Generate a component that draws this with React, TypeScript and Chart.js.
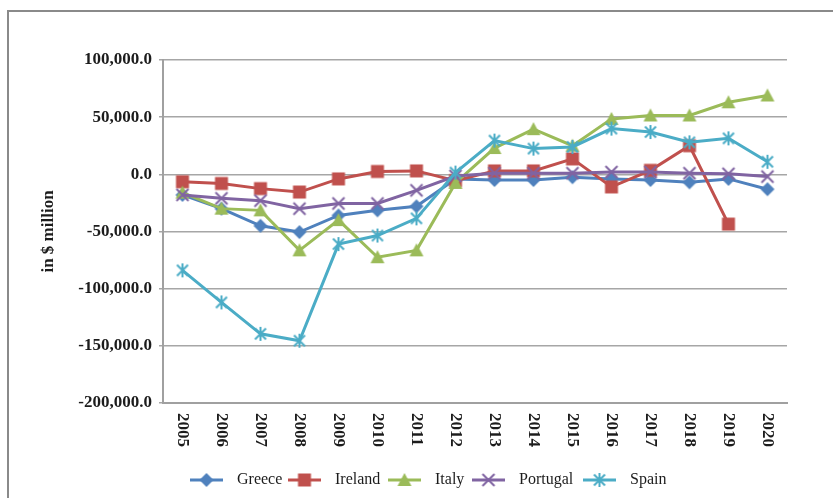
import { useEffect, useRef } from 'react';
import { Chart, registerables } from 'chart.js';

Chart.register(...registerables);

const years = ['2005', '2006', '2007', '2008', '2009', '2010', '2011', '2012', '2013', '2014', '2015', '2016', '2017', '2018', '2019', '2020'];
const greece = [-18000, -30000, -45000, -50500, -36000, -31500, -28000, -4000, -5000, -5000, -2500, -4000, -5000, -7000, -4000, -13000];
const ireland = [-6500, -8000, -12500, -15500, -4000, 2500, 3000, -5500, 3000, 3000, 13500, -11000, 3500, 25000, -43500, null];
const italy = [-16000, -30000, -31500, -66500, -40000, -72500, -66500, -7500, 23000, 39500, 25000, 48500, 51500, 51500, 63000, 69000];
const portugal = [-18000, -21000, -23000, -30000, -25500, -25500, -14000, -1500, 1000, 1000, 1000, 2000, 2000, 1000, 500, -2000];
const spain = [-84000, -112000, -139500, -145500, -61000, -53500, -38500, 1500, 29500, 22500, 24000, 40000, 37000, 28000, 31500, 11000];

const seriesNames = ['Greece', 'Ireland', 'Italy', 'Portugal', 'Spain'];
const seriesData = [greece, ireland, italy, portugal, spain];
const seriesColors = ['#4F81BD', '#C0504D', '#9BBB59', '#8064A2', '#4BACC6'];
const seriesMarkers = ['diamond', 'square', 'triangle', 'x', 'star'];
const yAxisTitle = 'in $ million';

const SERIF = '"Liberation Serif", "Times New Roman", serif';
const TEXT = '#1c1c1c';

function makeMarker(kind: string, color: string): HTMLCanvasElement {
  const s = 18;
  const c = document.createElement('canvas');
  c.width = s;
  c.height = s;
  const ctx = c.getContext('2d')!;
  const m = s / 2;
  ctx.fillStyle = color;
  ctx.strokeStyle = color;
  ctx.lineWidth = 2;
  ctx.lineCap = 'butt';
  ctx.beginPath();
  if (kind === 'diamond') {
    ctx.moveTo(m, m - 7);
    ctx.lineTo(m + 7, m);
    ctx.lineTo(m, m + 7);
    ctx.lineTo(m - 7, m);
    ctx.closePath();
    ctx.fill();
  } else if (kind === 'square') {
    ctx.rect(m - 6.5, m - 6.5, 13, 13);
    ctx.fill();
  } else if (kind === 'triangle') {
    ctx.moveTo(m, m - 7);
    ctx.lineTo(m + 7, m + 6);
    ctx.lineTo(m - 7, m + 6);
    ctx.closePath();
    ctx.fill();
  } else if (kind === 'x') {
    ctx.moveTo(m - 6, m - 6);
    ctx.lineTo(m + 6, m + 6);
    ctx.moveTo(m + 6, m - 6);
    ctx.lineTo(m - 6, m + 6);
    ctx.stroke();
  } else {
    ctx.moveTo(m - 5.5, m - 5.5);
    ctx.lineTo(m + 5.5, m + 5.5);
    ctx.moveTo(m + 5.5, m - 5.5);
    ctx.lineTo(m - 5.5, m + 5.5);
    ctx.moveTo(m, m - 7);
    ctx.lineTo(m, m + 7);
    ctx.stroke();
  }
  return c;
}

const fmt = (v: number) =>
  v.toLocaleString('en-US', { minimumFractionDigits: 1, maximumFractionDigits: 1 });

export default function App() {
  const ref = useRef<HTMLCanvasElement | null>(null);

  useEffect(() => {
    if (!ref.current) return;
    const markers = seriesMarkers.map((k, i) => makeMarker(k, seriesColors[i]));

    const xLabelsPlugin = {
      id: 'xLabelsRot',
      afterDraw(chart: any) {
        const ctx = chart.ctx;
        const xs = chart.scales.x;
        const top = chart.chartArea.bottom + 10;
        ctx.save();
        ctx.font = `bold 17px ${SERIF}`;
        ctx.fillStyle = TEXT;
        ctx.textAlign = 'left';
        ctx.textBaseline = 'middle';
        years.forEach((y, i) => {
          const x = xs.getPixelForValue(i);
          ctx.save();
          ctx.translate(x, top);
          ctx.rotate(Math.PI / 2);
          ctx.fillText(y, 0, 0);
          ctx.restore();
        });
        ctx.restore();
      },
    };

    const legendStarts = [190, 288, 388, 472, 583];
    const legendPlugin = {
      id: 'customLegend',
      afterDraw(chart: any) {
        const ctx = chart.ctx;
        const yc = 480;
        ctx.save();
        ctx.font = `16px ${SERIF}`;
        ctx.textAlign = 'left';
        ctx.textBaseline = 'middle';
        seriesNames.forEach((name, i) => {
          const x0 = legendStarts[i];
          ctx.strokeStyle = seriesColors[i];
          ctx.lineWidth = 3;
          ctx.beginPath();
          ctx.moveTo(x0, yc);
          ctx.lineTo(x0 + 33, yc);
          ctx.stroke();
          ctx.drawImage(markers[i], x0 + 16.5 - 9, yc - 9);
          ctx.fillStyle = TEXT;
          ctx.fillText(name, x0 + 47, yc);
        });
        ctx.restore();
      },
    };

    const chart = new Chart(ref.current, {
      type: 'line',
      data: {
        labels: years,
        datasets: seriesNames.map((name, i) => ({
          label: name,
          data: seriesData[i],
          borderColor: seriesColors[i],
          backgroundColor: seriesColors[i],
          borderWidth: 3,
          tension: 0,
          pointStyle: markers[i],
          pointRadius: 7,
          spanGaps: false,
          order: seriesNames.length - i,
        })),
      },
      options: {
        animation: false,
        responsive: true,
        maintainAspectRatio: false,
        layout: { padding: { top: 60, right: 46, bottom: 0, left: 0 } },
        plugins: {
          legend: { display: false },
          tooltip: { enabled: false },
        },
        scales: {
          x: {
            type: 'category',
            offset: true,
            grid: { display: false, drawTicks: false },
            border: { display: true, color: '#a0a0a0', width: 2 },
            ticks: { display: false },
            afterFit: (s: any) => {
              s.height = 95;
            },
          },
          y: {
            min: -200000,
            max: 100000,
            ticks: {
              stepSize: 50000,
              callback: (v: any) => fmt(Number(v)),
              font: { family: SERIF, size: 17, weight: 'bold' },
              color: TEXT,
              padding: 7,
            },
            grid: { color: '#a6a6a6', lineWidth: 1.5, tickLength: 4 },
            border: { display: true, color: '#a0a0a0', width: 2 },
            title: {
              display: true,
              text: yAxisTitle,
              font: { family: SERIF, size: 17, weight: 'bold' },
              color: TEXT,
              padding: { top: 38, bottom: 0 },
            },
            afterFit: (s: any) => {
              s.width = 163;
            },
          },
        },
      } as any,
      plugins: [xLabelsPlugin, legendPlugin],
    });
    return () => chart.destroy();
  }, []);

  return (
    <div
      style={{
        position: 'fixed',
        left: 0,
        top: 0,
        width: 833,
        height: 498,
        overflow: 'hidden',
        background: '#fff',
      }}
    >
      <div
        style={{
          position: 'absolute',
          left: 7,
          top: 10,
          width: 900,
          height: 600,
          borderLeft: '2px solid #8a8a8a',
          borderTop: '2px solid #8a8a8a',
        }}
      />
      <div style={{ position: 'absolute', left: 0, top: 0, width: 833, height: 498 }}>
        <canvas ref={ref} />
      </div>
    </div>
  );
}
